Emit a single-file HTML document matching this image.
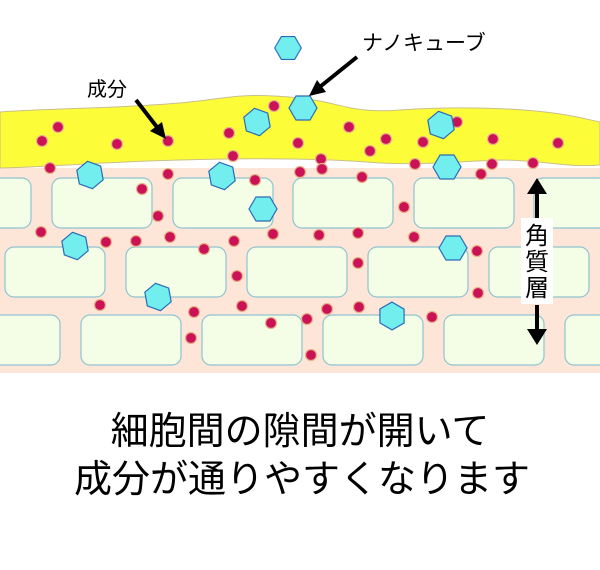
<!DOCTYPE html>
<html><head><meta charset="utf-8"><style>
body{margin:0;background:#fff;width:600px;height:570px;overflow:hidden}
svg{display:block}
</style></head><body>
<svg width="600" height="570" viewBox="0 0 600 570" xmlns="http://www.w3.org/2000/svg">
<rect x="0" y="168" width="600" height="205" fill="#fde6d8"/>
<g fill="#f4fde6" stroke="#8fc3cf" stroke-width="1.2">
<rect x="-20" y="178" width="51" height="50" rx="9"/>
<rect x="52" y="178" width="100" height="50" rx="9"/>
<rect x="173" y="178" width="100" height="50" rx="9"/>
<rect x="293" y="178" width="100" height="50" rx="9"/>
<rect x="414" y="178" width="100" height="50" rx="9"/>
<rect x="534" y="178" width="100" height="50" rx="9"/>
<rect x="5" y="247" width="100" height="50" rx="9"/>
<rect x="126" y="247" width="100" height="50" rx="9"/>
<rect x="247" y="247" width="100" height="50" rx="9"/>
<rect x="368" y="247" width="100" height="50" rx="9"/>
<rect x="489" y="247" width="100" height="50" rx="9"/>
<rect x="-40" y="315" width="100" height="50" rx="9"/>
<rect x="81" y="315" width="100" height="50" rx="9"/>
<rect x="202" y="315" width="100" height="50" rx="9"/>
<rect x="323" y="315" width="100" height="50" rx="9"/>
<rect x="444" y="315" width="100" height="50" rx="9"/>
<rect x="565" y="315" width="100" height="50" rx="9"/>
</g>
<path d="M0,112 C60,108 130,108 190,102 C230,98 240,92 300,98 C340,102 350,114 400,110 C460,106 520,108 560,114 C580,117 590,120 600,122 L600,165 C570,168 540,160 500,160 C450,162 420,165 380,163 C320,158 250,158 180,160 C100,162 50,167 0,168 Z" fill="#fdfc38" stroke="#c9c08a" stroke-width="1"/>
<g fill="#cc1257" stroke="#e8b48a" stroke-width="1.2">
<circle cx="42" cy="141" r="5.5"/><circle cx="58" cy="127" r="5.5"/><circle cx="117" cy="144" r="5.5"/><circle cx="168" cy="141" r="5.5"/>
<circle cx="229" cy="133" r="5.5"/><circle cx="233" cy="156" r="5.5"/><circle cx="274" cy="106" r="5.5"/><circle cx="298" cy="143" r="5.5"/>
<circle cx="50" cy="168" r="5.5"/><circle cx="168" cy="174" r="5.5"/><circle cx="255" cy="180" r="5.5"/><circle cx="142" cy="189" r="5.5"/><circle cx="158" cy="216" r="5.5"/>
<circle cx="349" cy="127" r="5.5"/><circle cx="386" cy="139" r="5.5"/><circle cx="370" cy="151" r="5.5"/><circle cx="423" cy="142" r="5.5"/><circle cx="457" cy="122" r="5.5"/>
<circle cx="493" cy="139" r="5.5"/><circle cx="558" cy="143" r="5.5"/><circle cx="321" cy="159" r="5.5"/><circle cx="322" cy="169" r="5.5"/><circle cx="300" cy="172" r="5.5"/>
<circle cx="415" cy="164" r="5.5"/><circle cx="492" cy="164" r="5.5"/><circle cx="481" cy="174" r="5.5"/><circle cx="533" cy="163" r="5.5"/><circle cx="362" cy="177" r="5.5"/><circle cx="404" cy="207" r="5.5"/>
<circle cx="319" cy="235" r="5.5"/><circle cx="358" cy="233" r="5.5"/><circle cx="414" cy="237" r="5.5"/><circle cx="477" cy="251" r="5.5"/><circle cx="358" cy="263" r="5.5"/>
<circle cx="478" cy="293" r="5.5"/><circle cx="327" cy="309" r="5.5"/><circle cx="359" cy="307" r="5.5"/><circle cx="307" cy="319" r="5.5"/><circle cx="432" cy="317" r="5.5"/><circle cx="311" cy="355" r="5.5"/>
<circle cx="41" cy="232" r="5.5"/><circle cx="106" cy="242" r="5.5"/><circle cx="136" cy="241" r="5.5"/><circle cx="170" cy="237" r="5.5"/><circle cx="204" cy="249" r="5.5"/>
<circle cx="234" cy="241" r="5.5"/><circle cx="273" cy="234" r="5.5"/><circle cx="237" cy="276" r="5.5"/><circle cx="100" cy="305" r="5.5"/><circle cx="194" cy="312" r="5.5"/>
<circle cx="242" cy="306" r="5.5"/><circle cx="191" cy="338" r="5.5"/><circle cx="271" cy="323" r="5.5"/>
</g>
<defs><polygon id="h" points="-14,0 -7,-12 7,-12 14,0 7,12 -7,12"/></defs>
<g fill="#72eeee" stroke="#2a6cb4" stroke-width="1.2">
<use href="#h" transform="translate(288,48) scale(0.95)"/>
<use href="#h" transform="translate(303,108)"/>
<use href="#h" transform="translate(257,122) rotate(20)"/>
<use href="#h" transform="translate(441,125) rotate(20)"/>
<use href="#h" transform="translate(90,175) rotate(20)"/>
<use href="#h" transform="translate(222,176) rotate(20)"/>
<use href="#h" transform="translate(263,209)"/>
<use href="#h" transform="translate(447,167)"/>
<use href="#h" transform="translate(75,246) rotate(20)"/>
<use href="#h" transform="translate(453,248)"/>
<use href="#h" transform="translate(158,297) rotate(20)"/>
<use href="#h" transform="translate(392,316) rotate(30)"/>
</g>
<g stroke="#000" stroke-width="4" fill="none">
<line x1="136" y1="100" x2="160" y2="131"/>
<line x1="357" y1="57" x2="316" y2="90"/>
<line x1="537" y1="188" x2="537" y2="218"/>
<line x1="537" y1="305" x2="537" y2="335"/>
</g>
<g fill="#000">
<polygon points="166,139 150,131 162,122"/>
<polygon points="309,96 317,80 326,92"/>
<polygon points="537,178 527,194 547,194"/>
<polygon points="537,345 527,329 547,329"/>
</g>
<rect x="521" y="218" width="32" height="86" fill="#fff"/>
<g font-family="'Liberation Sans','Noto Sans CJK JP',sans-serif" fill="#000">
<text x="87" y="96" font-size="20">成分</text>
<text x="362" y="50" font-size="21">ナノキューブ</text>
<text x="537" y="244" font-size="24" text-anchor="middle">角</text>
<text x="537" y="270" font-size="24" text-anchor="middle">質</text>
<text x="537" y="296" font-size="24" text-anchor="middle">層</text>
<text x="300" y="444" font-size="38" text-anchor="middle">細胞間の隙間が開いて</text>
<text x="302" y="492" font-size="38" text-anchor="middle">成分が通りやすくなります</text>
</g>
</svg>
</body></html>
